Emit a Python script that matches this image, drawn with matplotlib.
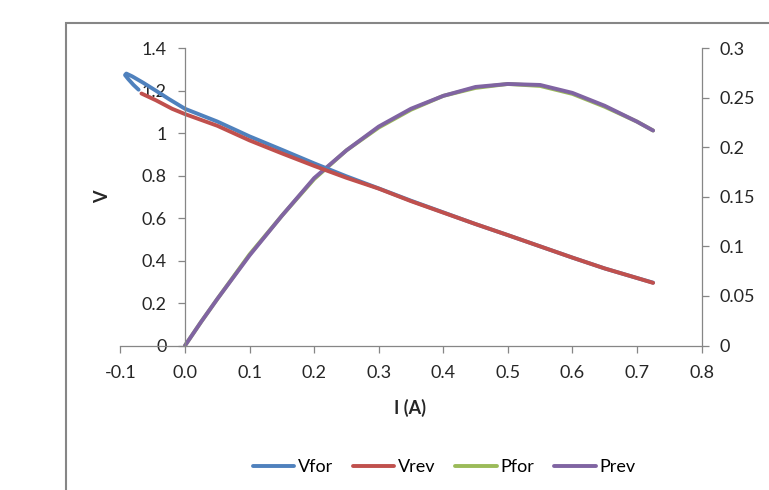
import matplotlib
matplotlib.use("Agg")
import matplotlib.pyplot as plt
from matplotlib.patches import Rectangle

# forward voltage sweep (includes small hook at negative current)
i_vfor = [-0.072, -0.08, -0.088, -0.093, -0.091, -0.082, -0.065, -0.045, -0.025, 0.0, 0.05,
          0.1, 0.15, 0.2, 0.25, 0.3, 0.35, 0.4, 0.45, 0.5, 0.55, 0.6, 0.65, 0.7, 0.725]
v_vfor = [1.205, 1.228, 1.255, 1.274, 1.281, 1.268, 1.238, 1.2, 1.161, 1.115, 1.055,
          0.985, 0.922, 0.858, 0.797, 0.74, 0.682, 0.627, 0.572, 0.52, 0.467, 0.414, 0.363,
          0.318, 0.296]
# reverse voltage sweep
i_vrev = [-0.0675, -0.045, -0.02, 0.0, 0.05, 0.1, 0.15, 0.2, 0.25, 0.3, 0.35, 0.4, 0.45,
          0.5, 0.55, 0.6, 0.65, 0.7, 0.725]
v_vrev = [1.187, 1.155, 1.115, 1.09, 1.035, 0.966, 0.905, 0.846, 0.79, 0.739, 0.68, 0.626,
          0.572, 0.52, 0.467, 0.414, 0.363, 0.318, 0.295]
# power curves
i_p = [0.0, 0.025, 0.05, 0.1, 0.15, 0.2, 0.25, 0.3, 0.35, 0.4, 0.45, 0.5, 0.55, 0.6,
       0.65, 0.7, 0.725]
p_for = [0.0, 0.024, 0.047, 0.092, 0.131, 0.168, 0.197, 0.220, 0.238, 0.252, 0.260, 0.264,
         0.262, 0.254, 0.241, 0.226, 0.217]
p_rev = [0.0, 0.024, 0.047, 0.091, 0.131, 0.169, 0.197, 0.221, 0.239, 0.252, 0.261, 0.264,
         0.263, 0.255, 0.242, 0.226, 0.217]

x_ticks = [-0.1, 0.0, 0.1, 0.2, 0.3, 0.4, 0.5, 0.6, 0.7, 0.8]
v_ticks = [0, 0.2, 0.4, 0.6, 0.8, 1, 1.2, 1.4]
v_labels = ["0", "0.2", "0.4", "0.6", "0.8", "1", "1.2", "1.4"]
p_ticks = [0, 0.05, 0.1, 0.15, 0.2, 0.25, 0.3]
p_labels = ["0", "0.05", "0.1", "0.15", "0.2", "0.25", "0.3"]

plt.rcParams['font.family'] = ['Lato', 'DejaVu Sans']
grey = '#868686'
txt = '#262626'
fs = 13
lw = 2.8

fig = plt.figure(figsize=(7.69, 4.90), dpi=100)
fig.add_artist(Rectangle((66 / 769, -0.1), 1.2, 1 - 23 / 490 + 0.1, transform=fig.transFigure,
                         fill=False, edgecolor=grey, lw=1.5, clip_on=False))

ax = fig.add_axes([120.5 / 769, 1 - 345.5 / 490, (701.5 - 120.5) / 769, (345.5 - 48.3) / 490])
ax2 = ax.twinx()

l1, = ax.plot(i_vfor, v_vfor, color='#4F81BD', lw=lw, solid_capstyle='round',
              solid_joinstyle='round', label='Vfor')
l2, = ax.plot(i_vrev, v_vrev, color='#C0504D', lw=lw, solid_capstyle='round',
              solid_joinstyle='round', label='Vrev')
l3, = ax2.plot(i_p, p_for, color='#9BBB59', lw=lw, solid_capstyle='round',
               solid_joinstyle='round', label='Pfor')
l4, = ax2.plot(i_p, p_rev, color='#8064A2', lw=lw, solid_capstyle='round',
               solid_joinstyle='round', label='Prev')
ax.set_zorder(ax2.get_zorder() + 1)
ax.patch.set_visible(False)

ax.set_xlim(-0.1, 0.8)
ax.set_ylim(0, 1.4)
ax2.set_ylim(0, 0.3)

for a in (ax, ax2):
    for s in a.spines.values():
        s.set_visible(False)
ax.spines['bottom'].set_visible(True)
ax.spines['left'].set_visible(True)
ax.spines['left'].set_position(('data', 0))
ax2.spines['right'].set_visible(True)
for s in (ax.spines['bottom'], ax.spines['left'], ax2.spines['right']):
    s.set_color(grey)
    s.set_linewidth(0.9)

ax.set_xticks(x_ticks)
ax.set_xticklabels(["%.1f" % t for t in x_ticks])
ax.set_yticks(v_ticks)
ax.set_yticklabels(v_labels)
ax2.set_yticks(p_ticks)
ax2.set_yticklabels(p_labels)
ax.tick_params(axis='both', colors=grey, labelcolor=txt, labelsize=fs, length=5, width=0.9)
ax.tick_params(axis='x', pad=9)
ax.tick_params(axis='y', pad=8)
ax2.tick_params(axis='y', colors=grey, labelcolor=txt, labelsize=fs, length=5, width=0.9, pad=8)

fig.text(410 / 769, 1 - 408 / 490, 'I (A)', ha='center', va='center', fontsize=fs,
         fontweight='bold', color=txt)
fig.text(103 / 769, 1 - 197 / 490, 'V', ha='center', va='center', fontsize=fs,
         fontweight='bold', color=txt, rotation=90)

fig.legend(handles=[l1, l2, l3, l4], loc='center', bbox_to_anchor=(444 / 769, 1 - 467 / 490),
           ncol=4, frameon=False, fontsize=fs, handlelength=2.3, handletextpad=0.2,
           columnspacing=1.1)

fig.savefig('out.png', dpi=100)
